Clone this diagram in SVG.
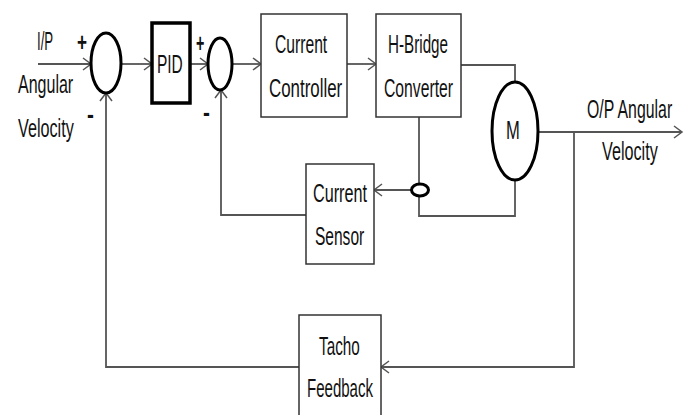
<svg xmlns="http://www.w3.org/2000/svg" width="693" height="415" viewBox="0 0 693 415">
<defs>
<style>
.t{font-family:"Liberation Sans",Arial,sans-serif;font-size:26px;fill:#111;}
.s{font-family:"Liberation Sans",Arial,sans-serif;font-size:26px;font-weight:bold;fill:#111;}
.box{fill:#fff;stroke:#333;stroke-width:1.5;}
.thick{fill:#fff;stroke:#000;stroke-width:3;}
.c{fill:none;stroke:#555;stroke-width:1.8;}
</style>
<marker id="arr" markerUnits="userSpaceOnUse" markerWidth="12" markerHeight="14" refX="9" refY="7" orient="auto">
<path d="M1,1 L9,7 L1,13" fill="none" stroke="#555" stroke-width="1.5"/>
</marker>
</defs>
<rect width="693" height="415" fill="#fff"/>
<g id="connectors">
<path class="c" d="M38,64 H91" marker-end="url(#arr)"/>
<path class="c" d="M121,64 H152" marker-end="url(#arr)"/>
<path class="c" d="M190,64 H208" marker-end="url(#arr)"/>
<path class="c" d="M232,64 H261" marker-end="url(#arr)"/>
<path class="c" d="M347,64 H376" marker-end="url(#arr)"/>
<path class="c" d="M461,65 H515 V82"/>
<path class="c" d="M419,117 V216 H515 V180"/>
<path class="c" d="M411,190 H374" marker-end="url(#arr)"/>
<path class="c" d="M306,215 H221 V90" marker-end="url(#arr)"/>
<path class="c" d="M538,132 H682" marker-end="url(#arr)"/>
<path class="c" d="M574,132 V367 H381" marker-end="url(#arr)"/>
<path class="c" d="M299,367 H106 V93" marker-end="url(#arr)"/>
</g>
<g id="input-label">
<text class="t" transform="translate(37,50) scale(0.6,1)" textLength="27" lengthAdjust="spacingAndGlyphs">I/P</text>
<text class="t" transform="translate(18,93) scale(0.6,1)" textLength="92" lengthAdjust="spacingAndGlyphs">Angular</text>
<text class="t" transform="translate(18,137) scale(0.6,1)" textLength="93" lengthAdjust="spacingAndGlyphs">Velocity</text>
</g>
<g id="sum1">
<ellipse class="thick" cx="106" cy="63" rx="15" ry="30"/>
<text class="s" transform="translate(77,51) scale(0.66,1)">+</text>
<text class="s" transform="translate(87,123) scale(0.8,1)">-</text>
</g>
<g id="pid">
<rect x="152" y="23" width="38" height="80" fill="#fff" stroke="#000" stroke-width="3.5"/>
<text class="t" transform="translate(157,73) scale(0.6,1)" textLength="43" lengthAdjust="spacingAndGlyphs">PID</text>
</g>
<g id="sum2">
<ellipse class="thick" cx="220" cy="64" rx="12" ry="26"/>
<text class="s" transform="translate(196,52) scale(0.55,1)">+</text>
<text class="s" transform="translate(203,121) scale(0.8,1)">-</text>
</g>
<g id="current-controller">
<rect class="box" x="261" y="14" width="86" height="103"/>
<text class="t" transform="translate(275,53) scale(0.6,1)" textLength="87" lengthAdjust="spacingAndGlyphs">Current</text>
<text class="t" transform="translate(269,97) scale(0.6,1)" textLength="122" lengthAdjust="spacingAndGlyphs">Controller</text>
</g>
<g id="h-bridge">
<rect class="box" x="376" y="14" width="85" height="103"/>
<text class="t" transform="translate(388,53) scale(0.6,1)" textLength="100" lengthAdjust="spacingAndGlyphs">H-Bridge</text>
<text class="t" transform="translate(384,97) scale(0.6,1)" textLength="115" lengthAdjust="spacingAndGlyphs">Converter</text>
</g>
<g id="motor">
<ellipse class="thick" cx="515" cy="131" rx="23" ry="49"/>
<text class="t" transform="translate(506,139) scale(0.6,1)" textLength="23" lengthAdjust="spacingAndGlyphs">M</text>
</g>
<g id="sensor-probe">
<ellipse cx="420" cy="190" rx="8.5" ry="6" fill="#fff" stroke="#000" stroke-width="3"/>
</g>
<g id="current-sensor">
<rect class="box" x="306" y="164" width="68" height="100"/>
<text class="t" transform="translate(313,202) scale(0.6,1)" textLength="90" lengthAdjust="spacingAndGlyphs">Current</text>
<text class="t" transform="translate(315,245) scale(0.6,1)" textLength="82" lengthAdjust="spacingAndGlyphs">Sensor</text>
</g>
<g id="output-label">
<text class="t" transform="translate(587,118) scale(0.6,1)" textLength="142" lengthAdjust="spacingAndGlyphs">O/P Angular</text>
<text class="t" transform="translate(602,160) scale(0.6,1)" textLength="93" lengthAdjust="spacingAndGlyphs">Velocity</text>
</g>
<g id="tacho">
<rect class="box" x="299" y="315" width="82" height="110"/>
<text class="t" transform="translate(319,355) scale(0.6,1)" textLength="68" lengthAdjust="spacingAndGlyphs">Tacho</text>
<text class="t" transform="translate(307,397) scale(0.6,1)" textLength="110" lengthAdjust="spacingAndGlyphs">Feedback</text>
</g>
</svg>
